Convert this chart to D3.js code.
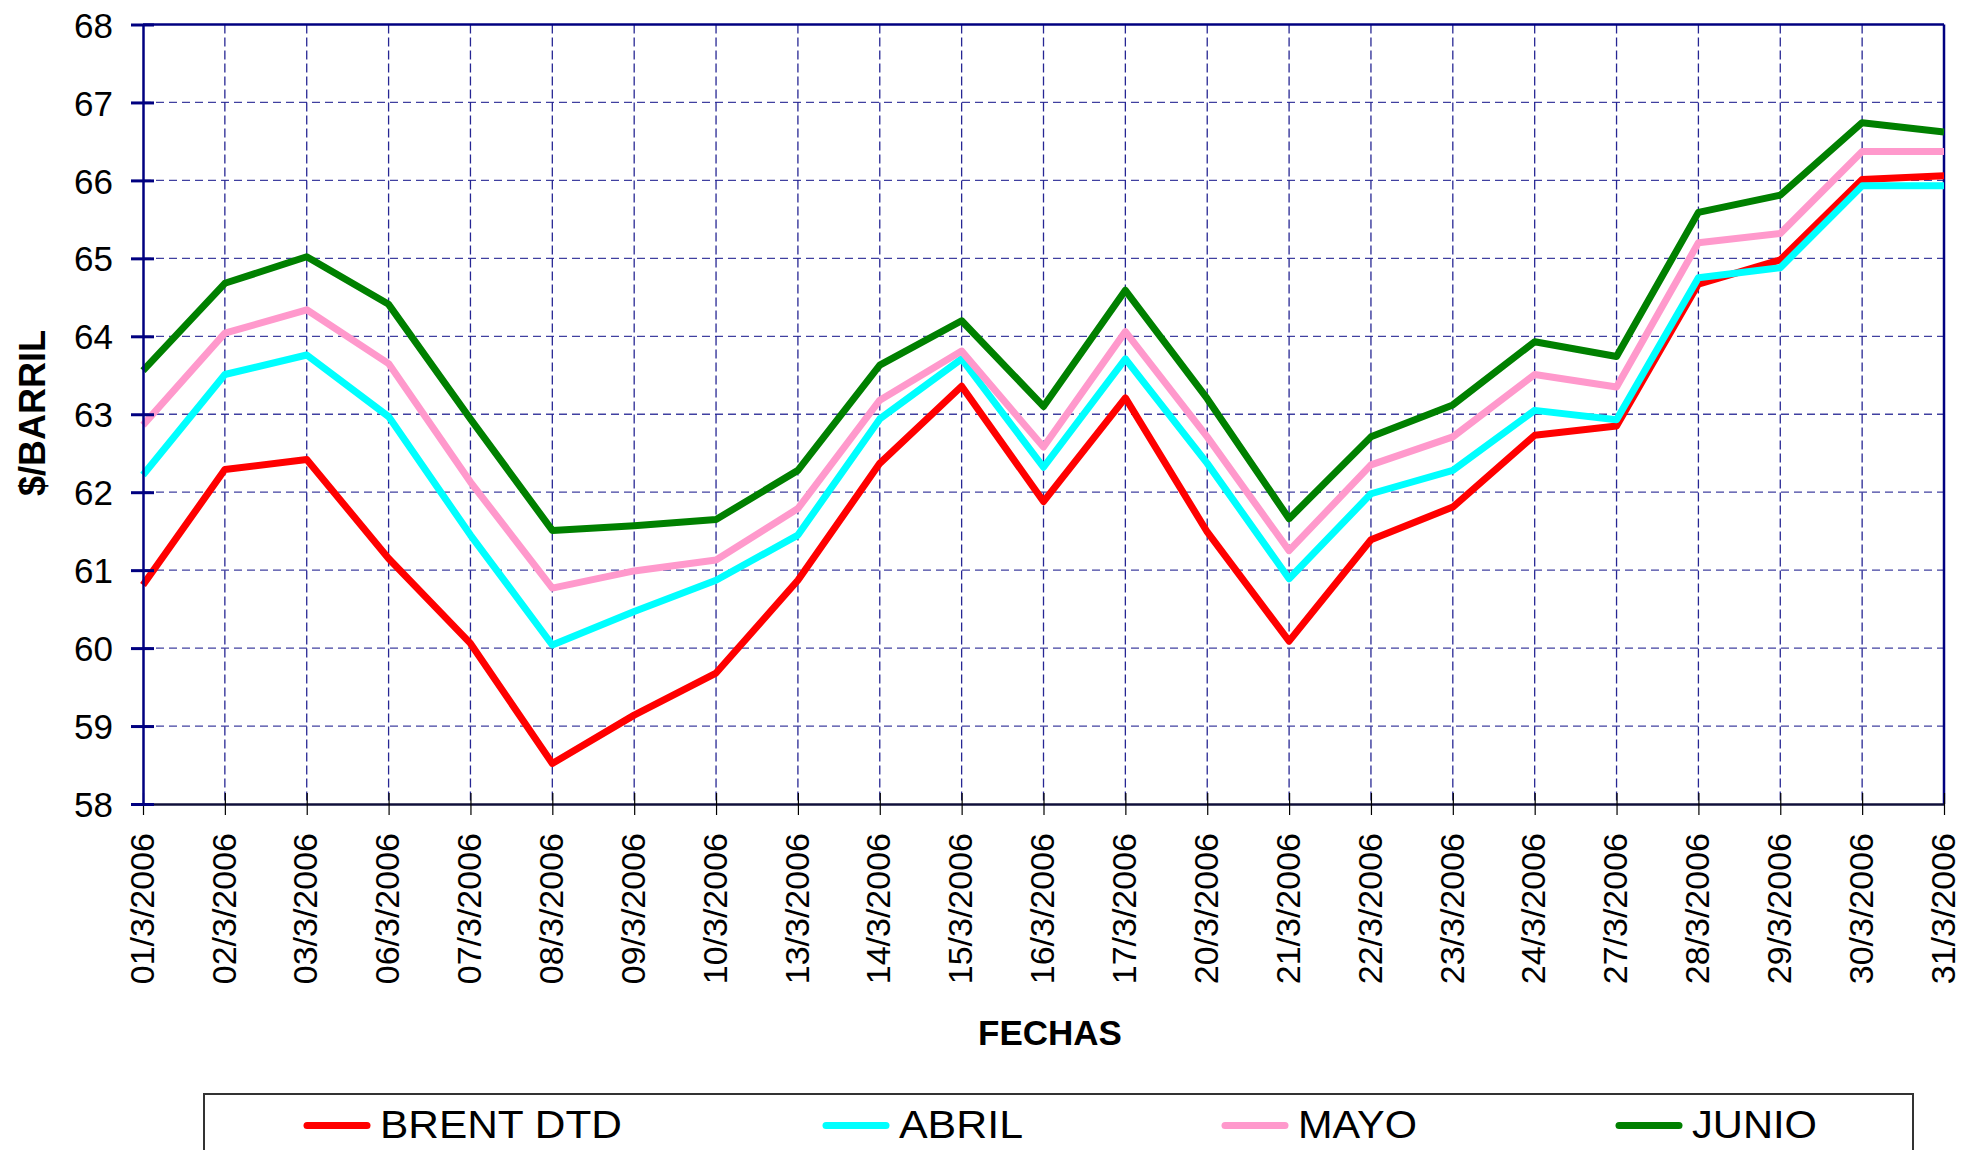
<!DOCTYPE html>
<html>
<head>
<meta charset="utf-8">
<script src="https://cdn.jsdelivr.net/npm/d3@7"></script>
<style>
  html, body { margin: 0; padding: 0; background: #fff; }
  svg { display: block; font-family: "Liberation Sans", Arial, sans-serif; }
</style>
</head>
<body>
<svg id="chart" width="1962" height="1150"></svg>
<script>
const categories = ["01/3/2006","02/3/2006","03/3/2006","06/3/2006","07/3/2006","08/3/2006","09/3/2006","10/3/2006","13/3/2006","14/3/2006","15/3/2006","16/3/2006","17/3/2006","20/3/2006","21/3/2006","22/3/2006","23/3/2006","24/3/2006","27/3/2006","28/3/2006","29/3/2006","30/3/2006","31/3/2006"];
const brent = [60.81,62.29,62.42,61.15,60.06,58.52,59.14,59.68,60.87,62.37,63.36,61.88,63.21,61.49,60.09,61.39,61.81,62.73,62.85,64.67,64.98,66.01,66.06];
const abril = [62.22,63.51,63.76,62.97,61.45,60.04,60.47,60.87,61.45,62.94,63.71,62.32,63.71,62.37,60.89,61.98,62.28,63.05,62.93,64.75,64.88,65.93,65.93];
const mayo  = [62.86,64.04,64.34,63.65,62.13,60.77,60.99,61.13,61.79,63.18,63.81,62.58,64.06,62.71,61.25,62.35,62.71,63.51,63.35,65.20,65.32,66.37,66.37];
const junio = [63.56,64.68,65.02,64.41,62.94,61.51,61.57,61.65,62.28,63.63,64.20,63.10,64.59,63.20,61.66,62.71,63.12,63.93,63.74,65.59,65.81,66.74,66.62];
const seriesNames = ["BRENT DTD","ABRIL","MAYO","JUNIO"];
const seriesColors = ["#FF0000","#00FFFF","#FF99CC","#008000"];
const yTicks = [58,59,60,61,62,63,64,65,66,67,68];
const yTitle = "$/BARRIL";
const xTitle = "FECHAS";

const seriesData = [brent, abril, mayo, junio];

const L = 143, R = 1944, T = 24.5, B = 804;
const svg = d3.select("#chart");

const x = d3.scalePoint().domain(categories).range([L, R]).padding(0);
const y = d3.scaleLinear().domain([58, 68]).range([B, T]);

// gridlines
const grid = svg.append("g");
grid.selectAll("line.h").data(yTicks.filter(v => v > 58 && v < 68)).enter().append("line")
  .attr("x1", L).attr("x2", R).attr("y1", d => y(d)).attr("y2", d => y(d))
  .attr("stroke", "#000080").attr("stroke-opacity", 0.75).attr("stroke-width", 1.3)
  .attr("stroke-dasharray", "8,5");
grid.selectAll("line.v").data(categories.slice(1, -1)).enter().append("line")
  .attr("x1", d => x(d)).attr("x2", d => x(d)).attr("y1", T).attr("y2", B)
  .attr("stroke", "#000080").attr("stroke-opacity", 0.85).attr("stroke-width", 1.3)
  .attr("stroke-dasharray", "9,4");

// plot frame (top and right)
svg.append("line").attr("x1", L).attr("x2", R).attr("y1", T).attr("y2", T)
  .attr("stroke", "#000080").attr("stroke-width", 2.5);
svg.append("line").attr("x1", R).attr("x2", R).attr("y1", T).attr("y2", B)
  .attr("stroke", "#000080").attr("stroke-width", 2.5);

// series lines
const line = d3.line().x((d, i) => x(categories[i])).y(d => y(d));
seriesData.forEach((s, k) => {
  svg.append("path").datum(s).attr("d", line)
    .attr("fill", "none").attr("stroke", seriesColors[k])
    .attr("stroke-width", 7).attr("stroke-linejoin", "round").attr("stroke-linecap", "butt");
});

// x axis
const xAxis = svg.append("g").attr("transform", `translate(0,${B})`)
  .call(d3.axisBottom(x).tickSizeInner(11).tickSizeOuter(0).tickPadding(0));
xAxis.select(".domain").attr("stroke", "#10103a").attr("stroke-width", 2.5);
xAxis.selectAll(".tick line").attr("y1", -11).attr("y2", 11).attr("stroke", "#000").attr("stroke-width", 1.2);
xAxis.selectAll(".tick text")
  .attr("transform", "rotate(-90)")
  .attr("x", -29).attr("y", 0).attr("dy", "0.3em")
  .attr("text-anchor", "end")
  .attr("font-size", 34).attr("fill", "#000")
  .attr("font-family", "'Liberation Sans', Arial, sans-serif");

// y axis
const yAxis = svg.append("g").attr("transform", `translate(${L},0)`)
  .call(d3.axisLeft(y).tickValues(yTicks).tickSizeInner(12).tickSizeOuter(0).tickFormat(d3.format("d")));
yAxis.select(".domain").attr("stroke", "#000080").attr("stroke-width", 2.5);
yAxis.selectAll(".tick line").attr("x1", 11).attr("x2", -12).attr("stroke", "#000080").attr("stroke-width", 3);
yAxis.selectAll(".tick text")
  .attr("x", -30).attr("dy", "0.36em")
  .attr("font-size", 35).attr("fill", "#000")
  .attr("font-family", "'Liberation Sans', Arial, sans-serif");

// axis titles
svg.append("text").attr("transform", `translate(32,413) rotate(-90)`)
  .attr("text-anchor", "middle").attr("dy", "0.36em")
  .attr("font-size", 36).attr("font-weight", "bold").text(yTitle);
svg.append("text").attr("x", 1050).attr("y", 1045)
  .attr("text-anchor", "middle").attr("font-size", 35).attr("font-weight", "bold").text(xTitle);

// legend
svg.append("rect").attr("x", 204).attr("y", 1094).attr("width", 1709).attr("height", 120)
  .attr("fill", "#fff").attr("stroke", "#333").attr("stroke-width", 2);
const legendX = [304, 823, 1222, 1616];
const legendTextW = [242, 124, 119, 125];
seriesNames.forEach((name, k) => {
  const g = svg.append("g");
  g.append("line").attr("x1", legendX[k] + 3).attr("x2", legendX[k] + 63)
    .attr("y1", 1125.5).attr("y2", 1125.5)
    .attr("stroke", seriesColors[k]).attr("stroke-width", 7).attr("stroke-linecap", "round");
  g.append("text").attr("x", legendX[k] + 76).attr("y", 1138)
    .attr("font-size", 38).attr("fill", "#000")
    .attr("textLength", legendTextW[k]).attr("lengthAdjust", "spacingAndGlyphs")
    .text(name);
});
</script>
</body>
</html>
